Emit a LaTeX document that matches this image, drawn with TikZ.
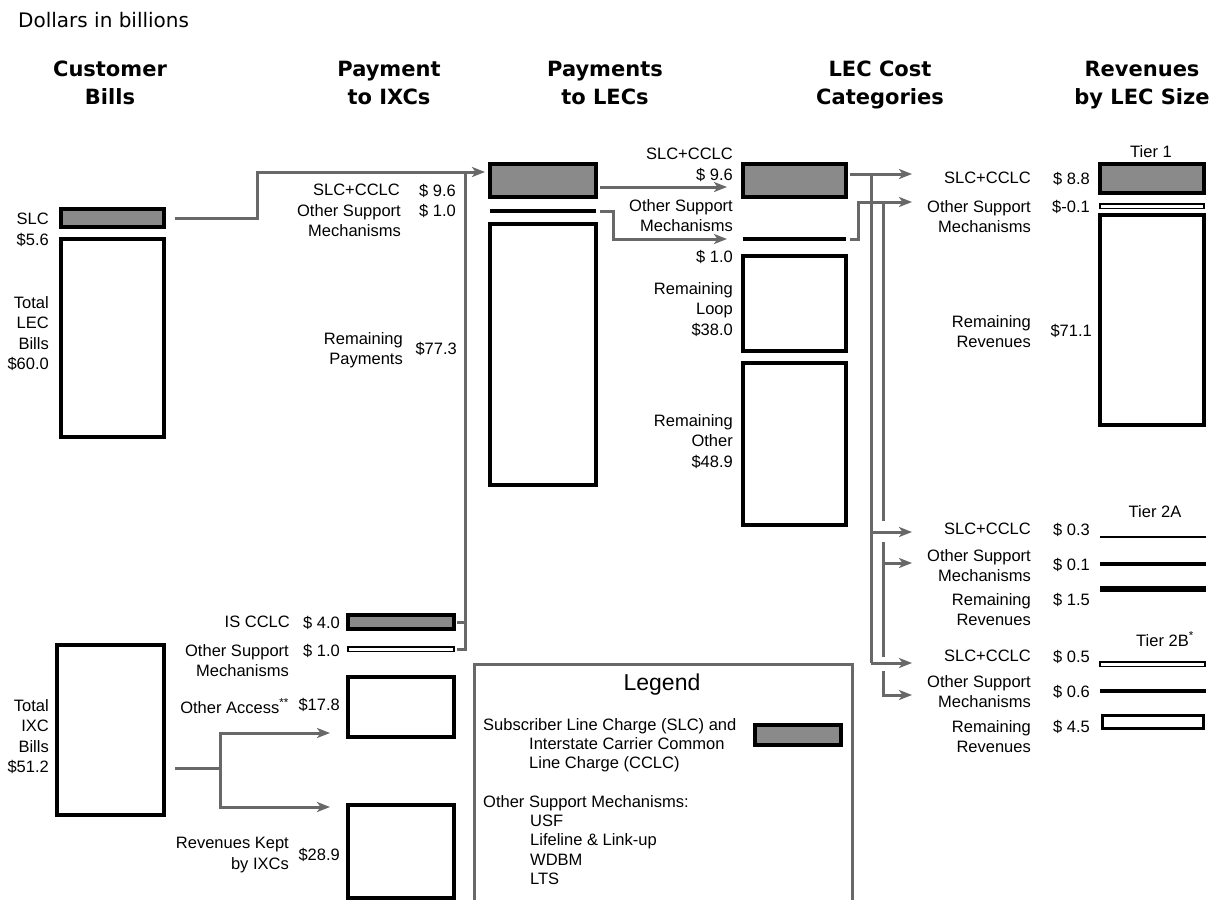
\documentclass[tikz,border=0pt]{standalone}
\usepackage{fontspec}
\setmainfont{Liberation Sans}
\newfontfamily\headfamily{DejaVu Sans}
\usetikzlibrary{arrows.meta}

\definecolor{flowgray}{HTML}{686868}
\definecolor{chargegray}{HTML}{8A8A8A}

\newcommand{\lblfont}{\fontsize{16.5}{20.5}\selectfont}
\newcommand{\headfont}{\headfamily\bfseries\fontsize{21}{28}\selectfont}
\newcommand{\titlefont}{\headfamily\fontsize{20}{24}\selectfont}

\begin{document}
\begin{tikzpicture}[
  x=1pt, y=-1pt,
  lbl/.style={font=\lblfont, align=right, inner sep=0pt, anchor=north east},
  lgd/.style={font=\fontsize{16.5}{19.3}\selectfont, align=left, inner sep=0pt, anchor=north west},
  head/.style={font=\headfont, align=center, inner sep=0pt, anchor=north},
  tierhd/.style={font=\lblfont, inner sep=0pt, anchor=base},
  box/.style={draw=black, line width=3.5pt, inner sep=0pt, outer sep=0pt, anchor=north west},
  charge/.style={box, fill=chargegray},
  slim/.style={draw=black, line width=1.5pt, inner sep=0pt, outer sep=0pt, anchor=north west, minimum height=4.5pt},
  rule/.style={fill=black, inner sep=0pt, outer sep=0pt, anchor=west},
  flow/.style={draw=flowgray, line width=3pt},
  flowarr/.style={flow, -{Stealth[length=13pt, width=10pt, inset=3.5pt]}},
]
\useasboundingbox (0,0) rectangle (1211,900);
\fill[white] (0,0) rectangle (1211,900);
\clip (0,0) rectangle (1211,900);

% title and column heads
\node[font=\titlefont, anchor=north west, inner sep=0pt] (title) at (18,12) {Dollars in billions};
\node[head] (hcust) at (110,61) {Customer\\Bills};
\node[head] (hixc)  at (389,61) {Payment\\to IXCs};
\node[head] (hlec)  at (605,61) {Payments\\to LECs};
\node[head] (hcost) at (880,61) {LEC Cost\\Categories};
\node[head] (hsize) at (1142,61) {Revenues\\by LEC Size};

% customer bills
\node[charge, minimum width=103pt, minimum height=18pt] (slc) at (61,209) {};
\node[box, minimum width=103pt, minimum height=198pt] (lecbill) at (61,239) {};
\node[box, minimum width=107pt, minimum height=170pt] (ixcbill) at (57,645) {};
\node[lbl] (slclbl) at (49,213) {SLC\\\$5.6};
\node[lbl] (leclbl) at (49,296) {Total\\LEC\\Bills\\\$60.0};
\node[lbl] (ixclbl) at (49,699) {Total\\IXC\\Bills\\\$51.2};

% payment to IXCs
\node[charge, minimum width=106pt, minimum height=14pt] (iscclc) at (348,615) {};
\node[slim, minimum width=106pt] (ixcosm) at (348,647) {};
\node[box, minimum width=106pt, minimum height=60pt] (othacc) at (348,677) {};
\node[box, minimum width=106pt, minimum height=93pt] (kept) at (348,805) {};
\node[lbl] (p1lbl) at (400,184) {SLC+CCLC};
\node[lbl] (p1val) at (456,184) {\$ 9.6};
\node[lbl] (p2lbl) at (401,204) {Other Support\\Mechanisms};
\node[lbl] (p2val) at (456,204) {\$ 1.0};
\node[lbl] (p3lbl) at (403,332) {Remaining\\Payments};
\node[lbl] (p3val) at (457,342) {\$77.3};
\node[lbl] (p4lbl) at (290,616) {IS CCLC};
\node[lbl] (p4val) at (340,616) {\$ 4.0};
\node[lbl] (p5lbl) at (289,644) {Other Support\\Mechanisms};
\node[lbl] (p5val) at (340,644) {\$ 1.0};
\node[lbl, anchor=base east] (p6lbl) at (289,713) {Other Access\textsuperscript{**}};
\node[lbl] (p6val) at (340,698) {\$17.8};
\node[lbl] (p7lbl) at (289,837) {Revenues Kept\\by IXCs};
\node[lbl] (p7val) at (340,848) {\$28.9};

% payments to LECs
\node[charge, minimum width=106pt, minimum height=33pt] (plslc) at (490,164) {};
\node[rule, minimum width=106pt, minimum height=3.5pt] (plosm) at (490,211) {};
\node[box, minimum width=106pt, minimum height=261pt] (plrem) at (490,224) {};
\node[lbl] (l1lbl) at (733,148) {SLC+CCLC\\\$ 9.6};
\node[lbl] (l2lbl) at (733,199) {Other Support\\Mechanisms};
\node[lbl] (l2val) at (733,250) {\$ 1.0};
\node[lbl] (l3lbl) at (733,282) {Remaining\\Loop\\\$38.0};
\node[lbl] (l4lbl) at (733,414) {Remaining\\Other\\\$48.9};

% LEC cost categories
\node[charge, minimum width=103pt, minimum height=33pt] (lcslc) at (743,164) {};
\node[rule, minimum width=103pt, minimum height=3.5pt] (lcosm) at (743,239) {};
\node[box, minimum width=103pt, minimum height=95pt] (loop) at (743,256) {};
\node[box, minimum width=103pt, minimum height=162pt] (other) at (743,363) {};

% revenues by LEC size
\node[tierhd] (tier1) at (1151,157) {Tier 1};
\node[charge, minimum width=104pt, minimum height=29pt] (t1slc) at (1100,164) {};
\node[slim, minimum width=104pt] (t1osm) at (1100,204) {};
\node[box, minimum width=104pt, minimum height=210pt] (t1rem) at (1100,215) {};
\node[lbl] (t1a) at (1031,172) {SLC+CCLC};
\node[lbl] (t1av) at (1090,172) {\$ 8.8};
\node[lbl] (t1b) at (1031,200) {Other Support\\Mechanisms};
\node[lbl] (t1bv) at (1090,200) {\$-0.1};
\node[lbl] (t1c) at (1031,315) {Remaining\\Revenues};
\node[lbl] (t1cv) at (1092,324) {\$71.1};

\node[tierhd] (tier2a) at (1155,517) {Tier 2A};
\draw[line width=1.5pt] (1100,537) -- (1206,537);
\draw[line width=3.5pt] (1100,564) -- (1206,564);
\draw[line width=5.5pt] (1100,589) -- (1206,589);
\node[lbl] (t2a) at (1031,523) {SLC+CCLC};
\node[lbl] (t2av) at (1090,523) {\$ 0.3};
\node[lbl] (t2b) at (1031,549) {Other Support\\Mechanisms};
\node[lbl] (t2bv) at (1090,558) {\$ 0.1};
\node[lbl] (t2c) at (1031,593) {Remaining\\Revenues};
\node[lbl] (t2cv) at (1090,593) {\$ 1.5};

\node[tierhd] (tier2b) at (1165,646) {Tier 2B\textsuperscript{*}};
\node[slim, minimum width=105pt] (t3slc) at (1100,662) {};
\draw[line width=3.5pt] (1100,691) -- (1206,691);
\node[box, line width=3pt, minimum width=101pt, minimum height=13pt] (t3rem) at (1102,715) {};
\node[lbl] (t3a) at (1031,650) {SLC+CCLC};
\node[lbl] (t3av) at (1090,650) {\$ 0.5};
\node[lbl] (t3b) at (1031,675) {Other Support\\Mechanisms};
\node[lbl] (t3bv) at (1090,685) {\$ 0.6};
\node[lbl] (t3c) at (1031,720) {Remaining\\Revenues};
\node[lbl] (t3cv) at (1090,720) {\$ 4.5};

% flows
\coordinate (riseA) at (257,172);
\coordinate (ixcup) at (465,172);
\draw[flowarr] ([xshift=11pt]slc.east) -| (riseA) -- ([xshift=-5pt]plslc.west |- riseA);
\draw[flow] ([xshift=3pt]iscclc.east) -| (ixcup);
\draw[flow] ([xshift=3pt]ixcosm.east) -| (ixcup);

\coordinate (ixcsplit) at (220,768);
\coordinate (toacc) at (330,733);
\coordinate (tokept) at (330,807);
\draw[flow] ([xshift=11pt]ixcbill.east |- ixcsplit) -- (ixcsplit);
\draw[flowarr] (ixcsplit) |- (toacc);
\draw[flowarr] (ixcsplit) |- (tokept);

\coordinate (tolcslc) at (727,187);
\coordinate (tolcosm) at (727,239);
\draw[flowarr] ([xshift=4pt]plslc.east |- tolcslc) -- (tolcslc);
\draw[flowarr] ([xshift=4pt]plosm.east) -- ++(13,0) |- (tolcosm);

\coordinate (busA) at (871,174);
\coordinate (busB) at (883,202);
\coordinate (tA1) at (912,174);
\coordinate (tA2) at (912,532);
\coordinate (tA3) at (912,663);
\coordinate (tB1) at (912,202);
\coordinate (tB2) at (912,563);
\coordinate (tB3) at (912,695);
\draw[flowarr] ([xshift=4pt]lcslc.east |- busA) -- (tA1);
\draw[flow] (busA) -- (busA |- tA3);
\draw[flowarr] (busA |- tA2) -- (tA2);
\draw[flowarr] (busA |- tA3) -- (tA3);
\draw[flowarr] ([xshift=4pt]lcosm.east) -- ++(8,0) |- (tB1);
\draw[flow] (busB) -- ([yshift=11pt]busB |- tA2);
\draw[flow] ([yshift=-10pt]busB |- tA2) -- ([yshift=6pt]busB |- tA3);
\draw[flowarr] (busB |- tB2) -- (tB2);
\draw[flowarr] ([yshift=-8pt]busB |- tA3) |- (tB3);

% legend
\node[draw=flowgray, line width=2.5pt, inner sep=0pt, anchor=north west,
      minimum width=378pt, minimum height=260pt] (legend) at (473,663) {};
\node[font=\fontsize{23}{26}\selectfont, inner sep=0pt] (legtitle) at (662,685) {Legend};
\node[lgd] (legslc) at (483,718) {Subscriber Line Charge (SLC) and\\
  \hspace*{46pt}Interstate Carrier Common\\ \hspace*{46pt}Line Charge (CCLC)};
\node[charge, minimum width=86pt, minimum height=20pt] (legkey) at (755,725) {};
\node[lgd] (legosm) at (483,795) {Other Support Mechanisms:\\ \hspace*{47pt}USF\\
  \hspace*{47pt}Lifeline \& Link-up\\ \hspace*{47pt}WDBM\\ \hspace*{47pt}LTS};
\end{tikzpicture}
\end{document}
